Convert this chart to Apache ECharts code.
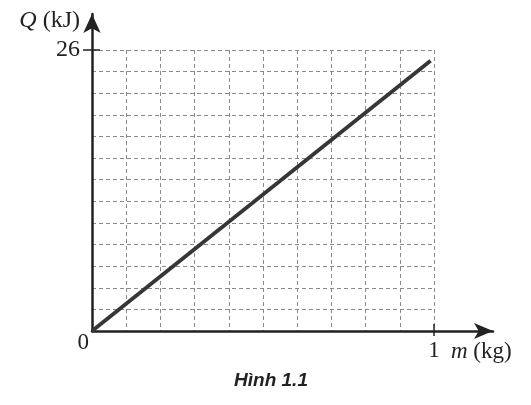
<!DOCTYPE html>
<html>
<head>
<meta charset="utf-8">
<script src="https://cdn.jsdelivr.net/npm/echarts@6/dist/echarts.min.js"></script>
<style>
html,body{margin:0;padding:0;background:#fff;}
#c{width:531px;height:405px;}
</style>
</head>
<body>
<div id="c"></div>
<script>
// data
const massKg = [0, 0.99];
const heatKJ = [0, 25];
const xTickLabels = [1];
const yTickLabels = [26];
const originLabel = [0];
const xMax = 1, xStep = 0.1;
const yMax = 26, yStep = 2;
const caption = 'Hình 1.1';

const serif = '"Liberation Serif", "DejaVu Serif", serif';
const ink = '#222';
const points = massKg.map((m, i) => [m, heatKJ[i]]);
const gridLine = {show: true, lineStyle: {color: '#8a8a8a', width: 1, type: [4, 3]}};
const tickStyle = {color: ink, width: 1.5};
const off = {show: false};

const chart = echarts.init(document.getElementById('c'));
chart.setOption({
  animation: false,
  backgroundColor: '#fff',
  title: {
    text: caption,
    left: 266, top: 366, textAlign: 'center',
    textStyle: {fontFamily: '"Liberation Sans", Arial, sans-serif', fontStyle: 'italic', fontWeight: 'bold', fontSize: 19, color: '#222'}
  },
  grid: [
    {left: 92, right: 38, top: 14, bottom: 74},
    {left: 92, right: 97, top: 50, bottom: 74}
  ],
  xAxis: [
    {
      gridIndex: 0, type: 'value', min: 0, max: 1, position: 'bottom',
      axisLine: {show: true, lineStyle: {color: ink, width: 2.5}, symbol: ['none', 'arrow'], symbolSize: [12, 19]},
      axisTick: off, axisLabel: off, splitLine: off,
      name: '{i|m} (kg)', nameLocation: 'end', nameGap: -42,
      nameTextStyle: {fontFamily: serif, fontSize: 23, color: ink, align: 'left', verticalAlign: 'middle', padding: [42, 0, 0, 0],
        rich: {i: {fontFamily: serif, fontSize: 23, fontStyle: 'italic', color: ink}}}
    },
    {
      gridIndex: 1, type: 'value', min: 0, max: xMax, interval: xStep, position: 'bottom',
      axisLine: off, axisTick: off, axisLabel: off, splitLine: gridLine
    },
    {
      gridIndex: 1, type: 'value', min: 0, max: xMax, position: 'bottom',
      axisLine: off,
      axisTick: {show: true, customValues: xTickLabels, length: 5, lineStyle: tickStyle},
      axisLabel: {show: true, customValues: xTickLabels, fontFamily: serif, fontSize: 23, color: ink, margin: 8},
      splitLine: off
    },
    {
      gridIndex: 1, type: 'value', min: 0, max: xMax, position: 'bottom',
      axisLine: off,
      axisTick: {show: true, inside: true, customValues: xTickLabels, length: 7, lineStyle: tickStyle},
      axisLabel: off, splitLine: off
    }
  ],
  yAxis: [
    {
      gridIndex: 0, type: 'value', min: 0, max: 1, position: 'left',
      axisLine: {show: true, lineStyle: {color: ink, width: 2.5}, symbol: ['none', 'arrow'], symbolSize: [13, 19]},
      axisTick: off, axisLabel: off, splitLine: off,
      name: '{i|Q} (kJ)', nameLocation: 'end', nameGap: -7,
      nameTextStyle: {fontFamily: serif, fontSize: 24, color: ink, align: 'right', verticalAlign: 'middle', padding: [0, 12, 0, 0],
        rich: {i: {fontFamily: serif, fontSize: 24, fontStyle: 'italic', color: ink}}}
    },
    {
      gridIndex: 1, type: 'value', min: 0, max: yMax, interval: yStep, position: 'left',
      axisLine: off, axisTick: off, axisLabel: off, splitLine: gridLine
    },
    {
      gridIndex: 1, type: 'value', min: 0, max: yMax, position: 'left',
      axisLine: off,
      axisTick: {show: true, customValues: yTickLabels, length: 9, lineStyle: tickStyle},
      axisLabel: {show: true, customValues: yTickLabels, fontFamily: serif, fontSize: 24, color: ink, margin: 12},
      splitLine: off
    },
    {
      gridIndex: 1, type: 'value', min: 0, max: yMax, position: 'left',
      axisLine: off,
      axisTick: {show: true, inside: true, customValues: yTickLabels, length: 8, lineStyle: tickStyle},
      axisLabel: {show: true, customValues: originLabel, fontFamily: serif, fontSize: 23, color: ink, margin: 3, verticalAlign: 'top'},
      splitLine: off
    }
  ],
  series: [{
    type: 'line', xAxisIndex: 1, yAxisIndex: 1,
    data: points, showSymbol: false, symbol: 'none',
    lineStyle: {color: '#363636', width: 3.8}
  }]
});
</script>
</body>
</html>
